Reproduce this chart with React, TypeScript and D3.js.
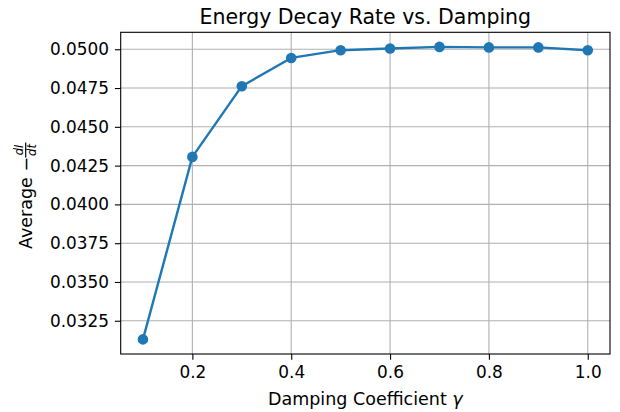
import { useEffect, useRef } from 'react';
import * as d3 from 'd3';

// damping coefficient γ and the average energy decay rate
const GAMMAS = [0.1, 0.2, 0.3, 0.4, 0.5, 0.6, 0.7, 0.8, 0.9, 1.0];
const RATES = [0.0313, 0.04306, 0.04762, 0.04944, 0.04994, 0.05005, 0.05015, 0.05012, 0.05012, 0.04994];

const X_TICKS = [0.2, 0.4, 0.6, 0.8, 1.0];
const Y_TICKS = [0.0325, 0.035, 0.0375, 0.04, 0.0425, 0.045, 0.0475, 0.05];

const W = 620;
const H = 412;
const PAD = { top: 32.3, right: 10, bottom: 58, left: 120.7 };
const BLUE = '#1f77b4';
const FONT = '"DejaVu Sans", sans-serif';

// matplotlib-style 5% margins
function padded([lo, hi]: [number, number]): [number, number] {
  const m = (hi - lo) * 0.05;
  return [lo - m, hi + m];
}

export default function App() {
  const svgRef = useRef<SVGSVGElement>(null);

  useEffect(() => {
    document.body.style.margin = '0';
    if (!svgRef.current) return;

    const svg = d3.select(svgRef.current);
    svg.selectAll('*').remove();

    const innerW = W - PAD.left - PAD.right;
    const innerH = H - PAD.top - PAD.bottom;

    const xScale = d3
      .scaleLinear()
      .domain(padded(d3.extent(GAMMAS) as [number, number]))
      .range([0, innerW]);
    const yScale = d3
      .scaleLinear()
      .domain(padded(d3.extent(RATES) as [number, number]))
      .range([innerH, 0]);

    svg.append('rect').attr('width', W).attr('height', H).attr('fill', '#fff');

    const g = svg.append('g').attr('transform', `translate(${PAD.left},${PAD.top})`);

    // Grid
    g.selectAll('line.gx')
      .data(X_TICKS)
      .join('line')
      .attr('x1', (d) => xScale(d))
      .attr('x2', (d) => xScale(d))
      .attr('y1', 0)
      .attr('y2', innerH)
      .attr('stroke', '#b0b0b0')
      .attr('stroke-width', 1.1);
    g.selectAll('line.gy')
      .data(Y_TICKS)
      .join('line')
      .attr('x1', 0)
      .attr('x2', innerW)
      .attr('y1', (d) => yScale(d))
      .attr('y2', (d) => yScale(d))
      .attr('stroke', '#b0b0b0')
      .attr('stroke-width', 1.1);

    // Axes
    const xAxis = g
      .append('g')
      .attr('transform', `translate(0,${innerH})`)
      .call(
        d3
          .axisBottom(xScale)
          .tickValues(X_TICKS)
          .tickFormat(d3.format('.1f'))
          .tickSize(5.8)
          .tickPadding(5.8)
      );
    const yAxis = g.append('g').call(
      d3
        .axisLeft(yScale)
        .tickValues(Y_TICKS)
        .tickFormat(d3.format('.4f'))
        .tickSize(5.8)
        .tickPadding(5.8)
    );
    [xAxis, yAxis].forEach((ax) => {
      ax.select('.domain').remove();
      ax.selectAll('line').attr('stroke', '#000').attr('stroke-width', 1.1);
      ax.selectAll('text')
        .attr('fill', '#000')
        .style('font-family', FONT)
        .style('font-size', '16.9px');
    });

    // Line + markers
    const line = d3
      .line<number>()
      .x((_, i) => xScale(GAMMAS[i]))
      .y((d) => yScale(d));
    g.append('path')
      .attr('d', line(RATES))
      .attr('fill', 'none')
      .attr('stroke', BLUE)
      .attr('stroke-width', 2.4)
      .attr('stroke-linejoin', 'round');
    g.selectAll('circle')
      .data(RATES)
      .join('circle')
      .attr('cx', (_, i) => xScale(GAMMAS[i]))
      .attr('cy', (d) => yScale(d))
      .attr('r', 5.3)
      .attr('fill', BLUE);

    // Frame
    g.append('rect')
      .attr('width', innerW)
      .attr('height', innerH)
      .attr('fill', 'none')
      .attr('stroke', '#000')
      .attr('stroke-width', 1.1);

    // Title
    svg.append('text')
      .attr('x', PAD.left + innerW / 2)
      .attr('y', 24)
      .attr('text-anchor', 'middle')
      .style('font-family', FONT)
      .style('font-size', '20.5px')
      .text('Energy Decay Rate vs. Damping');

    // X label
    const xl = svg.append('text')
      .attr('x', PAD.left + innerW / 2)
      .attr('y', 405)
      .attr('text-anchor', 'middle')
      .style('font-family', FONT)
      .style('font-size', '17.5px');
    xl.append('tspan').text('Damping Coefficient ');
    xl.append('tspan').attr('font-style', 'italic').text('γ');

    // Y label: "Average −dI/dt", rotated
    const yl = svg.append('g').attr('transform', 'translate(32,0) rotate(-90)');
    yl.append('text')
      .attr('x', -249)
      .attr('y', 0)
      .style('font-family', FONT)
      .style('font-size', '17.5px')
      .text('Average −');
    const fx = -150;
    yl.append('line')
      .attr('x1', fx - 7.5)
      .attr('x2', fx + 7.5)
      .attr('y1', -6.3)
      .attr('y2', -6.3)
      .attr('stroke', '#000')
      .attr('stroke-width', 1.2);
    yl.append('text')
      .attr('x', fx)
      .attr('y', -9.5)
      .attr('text-anchor', 'middle')
      .style('font-family', FONT)
      .style('font-style', 'italic')
      .style('font-size', '11.5px')
      .text('dI');
    yl.append('text')
      .attr('x', fx)
      .attr('y', 4)
      .attr('text-anchor', 'middle')
      .style('font-family', FONT)
      .style('font-style', 'italic')
      .style('font-size', '11.5px')
      .text('dt');
  }, []);

  return <svg ref={svgRef} width={W} height={H} style={{ display: 'block' }} />;
}
